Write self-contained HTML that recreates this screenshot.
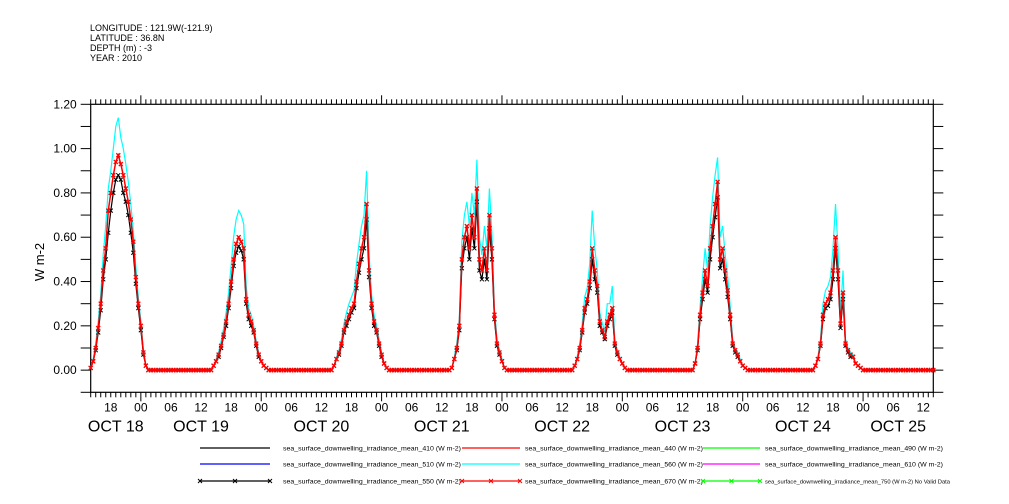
<!DOCTYPE html>
<html><head><meta charset="utf-8">
<style>
body{margin:0;background:#fff;}
svg{display:block;font-family:"Liberation Sans",sans-serif;}
</style></head>
<body>
<svg id="chart" width="1009" height="504" viewBox="0 0 1009 504" xmlns="http://www.w3.org/2000/svg">
<g font-size="9" fill="#000">
<text x="90" y="31">LONGITUDE : 121.9W(-121.9)</text>
<text x="90" y="41">LATITUDE : 36.8N</text>
<text x="90" y="51">DEPTH (m) : -3</text>
<text x="90" y="61">YEAR : 2010</text>
</g>
<text x="0" y="0" transform="translate(44,262) rotate(-90)" text-anchor="middle" font-size="13">W m-2</text>
<g id="axes"></g>
<g id="series"></g>
<g id="legend"></g>
</svg>
<script>
// ---- data (values W m-2 at 30-min steps from 14:00 to 01:30 UTC each day, Oct 18..24)
const dayLabels = ["OCT 18","OCT 19","OCT 20","OCT 21","OCT 22","OCT 23","OCT 24","OCT 25"];
const yTickLabels = ["0.00","0.20","0.40","0.60","0.80","1.00","1.20"];
const yTickValues = [0,0.2,0.4,0.6,0.8,1.0,1.2];
const hourLabels = ["00","06","12","18"];
const red440 = [
[0.01,0.04,0.1,0.19,0.3,0.45,0.55,0.72,0.8,0.88,0.94,0.97,0.93,0.88,0.82,0.76,0.68,0.58,0.42,0.3,0.2,0.08,0.02,0],
[0,0.02,0.04,0.07,0.11,0.16,0.22,0.3,0.4,0.5,0.57,0.6,0.58,0.55,0.32,0.25,0.22,0.18,0.12,0.07,0.04,0.02,0.01,0],
[0,0.02,0.05,0.08,0.12,0.18,0.22,0.25,0.28,0.3,0.4,0.48,0.55,0.6,0.75,0.45,0.3,0.22,0.18,0.12,0.07,0.03,0.01,0],
[0.01,0.05,0.1,0.2,0.5,0.6,0.65,0.55,0.7,0.6,0.82,0.5,0.45,0.55,0.45,0.7,0.55,0.25,0.12,0.08,0.04,0.01,0,0],
[0,0.02,0.05,0.1,0.18,0.28,0.32,0.4,0.55,0.45,0.38,0.22,0.18,0.15,0.22,0.25,0.28,0.12,0.08,0.05,0.03,0.01,0,0],
[0,0.03,0.1,0.25,0.35,0.45,0.38,0.55,0.65,0.75,0.85,0.5,0.55,0.45,0.36,0.25,0.12,0.09,0.07,0.04,0.02,0.01,0,0],
[0,0.02,0.05,0.12,0.25,0.3,0.32,0.35,0.45,0.6,0.45,0.21,0.35,0.12,0.09,0.07,0.06,0.03,0.02,0.01,0,0,0,0]];
const cyan560 = [
[0.01,0.05,0.12,0.22,0.34,0.52,0.65,0.82,0.9,1.0,1.1,1.14,1.05,1.0,0.93,0.85,0.75,0.63,0.47,0.33,0.22,0.09,0.02,0],
[0,0.02,0.05,0.08,0.13,0.19,0.26,0.35,0.47,0.6,0.68,0.72,0.7,0.66,0.38,0.28,0.25,0.2,0.13,0.08,0.04,0.02,0.01,0],
[0,0.02,0.06,0.09,0.14,0.21,0.26,0.3,0.33,0.36,0.48,0.57,0.65,0.7,0.9,0.52,0.34,0.25,0.2,0.14,0.08,0.03,0.01,0],
[0.01,0.06,0.12,0.23,0.58,0.7,0.76,0.65,0.8,0.7,0.95,0.6,0.52,0.65,0.55,0.82,0.62,0.28,0.14,0.09,0.05,0.01,0,0],
[0,0.02,0.06,0.12,0.21,0.33,0.37,0.48,0.72,0.55,0.45,0.26,0.21,0.18,0.3,0.3,0.38,0.14,0.09,0.06,0.03,0.01,0,0],
[0,0.03,0.12,0.29,0.42,0.55,0.45,0.65,0.78,0.88,0.96,0.6,0.65,0.52,0.42,0.29,0.14,0.1,0.08,0.05,0.02,0.01,0,0],
[0,0.02,0.06,0.14,0.3,0.36,0.38,0.42,0.55,0.75,0.55,0.25,0.45,0.14,0.1,0.08,0.07,0.03,0.02,0.01,0,0,0,0]];
const black410 = [
[0.01,0.04,0.09,0.17,0.27,0.41,0.5,0.62,0.72,0.8,0.86,0.88,0.86,0.8,0.76,0.7,0.62,0.53,0.39,0.28,0.18,0.07,0.02,0],
[0,0.02,0.04,0.06,0.1,0.15,0.2,0.28,0.37,0.47,0.53,0.56,0.54,0.5,0.3,0.23,0.2,0.17,0.11,0.06,0.04,0.02,0.01,0],
[0,0.02,0.05,0.07,0.11,0.17,0.2,0.23,0.26,0.28,0.37,0.44,0.5,0.55,0.68,0.42,0.28,0.2,0.17,0.11,0.06,0.03,0.01,0],
[0.01,0.05,0.09,0.18,0.46,0.55,0.6,0.5,0.64,0.55,0.76,0.45,0.41,0.5,0.41,0.64,0.5,0.23,0.11,0.07,0.04,0.01,0,0],
[0,0.02,0.05,0.09,0.17,0.26,0.3,0.37,0.5,0.41,0.35,0.2,0.17,0.14,0.2,0.23,0.26,0.11,0.07,0.05,0.03,0.01,0,0],
[0,0.03,0.09,0.23,0.32,0.41,0.35,0.5,0.6,0.69,0.78,0.46,0.5,0.41,0.33,0.23,0.11,0.08,0.06,0.04,0.02,0.01,0,0],
[0,0.02,0.05,0.11,0.23,0.28,0.29,0.32,0.41,0.55,0.41,0.19,0.32,0.11,0.08,0.06,0.06,0.03,0.02,0.01,0,0,0,0]];
const legendNames = [
["sea_surface_downwelling_irradiance_mean_410 (W m-2)","#000",false],
["sea_surface_downwelling_irradiance_mean_440 (W m-2)","#f00",false],
["sea_surface_downwelling_irradiance_mean_490 (W m-2)","#0f0",false],
["sea_surface_downwelling_irradiance_mean_510 (W m-2)","#00f",false],
["sea_surface_downwelling_irradiance_mean_560 (W m-2)","#0ff",false],
["sea_surface_downwelling_irradiance_mean_610 (W m-2)","#f0f",false],
["sea_surface_downwelling_irradiance_mean_550 (W m-2)","#000",true],
["sea_surface_downwelling_irradiance_mean_670 (W m-2)","#f00",true],
["sea_surface_downwelling_irradiance_mean_750 (W m-2) No Valid Data","#0f0",true]];

const NS="http://www.w3.org/2000/svg";
const L=90.7,R=933.3,T=104.3,B=392.3;
const H0=0,H1=168; // hours from Oct 18 14:00
const yMin=-0.1,yMax=1.2;
function xs(h){return L+(h-H0)/(H1-H0)*(R-L);}
function ys(v){return B-(v-yMin)/(yMax-yMin)*(B-T);}
function mk(tag,attrs,parent){const e=document.createElementNS(NS,tag);for(const k in attrs)e.setAttribute(k,attrs[k]);parent.appendChild(e);return e;}
const axes=document.getElementById('axes');
const rect=mk('rect',{x:L,y:T,width:R-L,height:B-T,fill:'none',stroke:'#000','stroke-width':1.2},axes);


for(let i=0;i<=13;i++){const v=-0.1+i*0.1;const y=ys(v);
 const t1=mk('line',{x1:L-10,x2:L,y1:y,y2:y,stroke:'#000'},axes);
 
 
 const t2=mk('line',{x1:R,x2:R+10,y1:y,y2:y,stroke:'#000'},axes);
 
 }
yTickValues.forEach((v,i)=>{const t=mk('text',{x:L-14,y:ys(v)+4,'text-anchor':'end','font-size':12},axes);t.textContent=yTickLabels[i];
 
 });
for(let h=0;h<=168;h++){const x=xs(h);const clock=(14+h)%24;const major=clock===0;
 const a=mk('line',{x1:x,x2:x,y1:T,y2:T-(major?9:5),stroke:'#000'},axes);
 
 
 const b=mk('line',{x1:x,x2:x,y1:B,y2:B+(major?9:5),stroke:'#000'},axes);
 
 
 if(clock%6===0){const t=mk('text',{x:x,y:B+19,'text-anchor':'middle','font-size':12},axes);t.textContent=hourLabels[clock/6];
  
  }}
dayLabels.forEach((d,i)=>{let x;
 if(i===0)x=(xs(0)+xs(10))/2;else if(i===7)x=(xs(154)+xs(168))/2;else x=xs(i*24-2);
 const t=mk('text',{x:x,y:B+39,'text-anchor':'middle','font-size':16},axes);t.textContent=d;
 
 });
const sg=document.getElementById('series');
function fullPts(arr){const pts=[];for(let d=0;d<7;d++){for(let k=0;k<48;k++){const h=d*24+k*0.5;const v=k<24?arr[d][k]:0;pts.push([xs(h),ys(v)]);}}pts.push([xs(168),ys(0)]);return pts;}
function drawLine(arr,color,name,w){const p=mk('polyline',{points:fullPts(arr).map(q=>q[0].toFixed(1)+','+q[1].toFixed(1)).join(' '),fill:'none',stroke:color,'stroke-width':w},sg);
 
 }
function drawMarks(arr,color,name,w){const g=mk('g',{stroke:color,'stroke-width':w},sg);
 
 
 fullPts(arr).forEach(q=>{mk('path',{d:`M${q[0]-2} ${q[1]-2}L${q[0]+2} ${q[1]+2}M${q[0]-2} ${q[1]+2}L${q[0]+2} ${q[1]-2}`},g);});}
drawLine(cyan560,'#0ff','series-560',1.2);
drawLine(black410,'#000','series-410',1.2);
drawMarks(black410,'#000','markers-550',1);
drawLine(red440,'#f00','series-440',1.5);
drawMarks(red440,'#f00','markers-670',1.3);
const lg=document.getElementById('legend');
const colX=[[200,270,283],[462,520,525],[703,760,765]];const rowY=[448,464,481];
legendNames.forEach((e,i)=>{const c=colX[i%3],y=rowY[Math.floor(i/3)];
 const g=mk('g',{},lg);
 
 
 mk('line',{x1:c[0],x2:c[1],y1:y,y2:y,stroke:e[1],'stroke-width':1.2},g);
 if(e[2]){[c[0],(c[0]+c[1])/2,c[1]].forEach(x=>mk('path',{d:`M${x-2} ${y-2}L${x+2} ${y+2}M${x-2} ${y+2}L${x+2} ${y-2}`,stroke:e[1]},g));}
 const t=mk('text',{x:c[2],y:y+2.5,'font-size':i===8?5.6:6.5,'textLength':i===8?185:178,'lengthAdjust':'spacingAndGlyphs'},g);t.textContent=e[0];});
</script>
</body></html>
